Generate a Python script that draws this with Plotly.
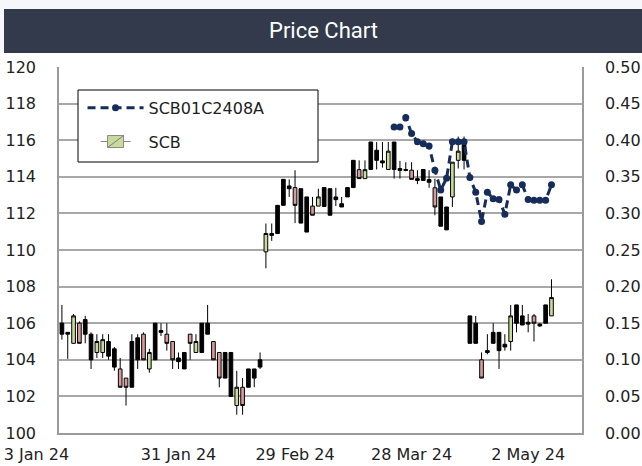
import pandas as pd
import plotly.graph_objects as go

# ---------------- data ----------------
holidays = ["2024-02-26", "2024-04-08", "2024-04-12", "2024-04-15",
            "2024-04-16", "2024-05-01", "2024-05-06"]
dates = [d.strftime("%Y-%m-%d") for d in pd.bdate_range("2024-01-03", "2024-05-09")
         if d.strftime("%Y-%m-%d") not in holidays]

scb_open = [106.0, 105.5, 104.9, 106.0, 106.2, 105.4, 104.4, 104.4, 105.0, 104.6,
            103.5, 103.0, 102.5, 104.0, 105.4, 103.5, 104.0, 105.6, 105.4, 105.0,
            104.1, 103.5, 105.4, 104.4, 104.4, 106.0, 105.0, 104.4, 104.4, 104.4,
            101.5, 102.5, 102.5, 103.0, 103.6,
            109.9, 110.9, 110.9, 112.44, 113.5, 113.41, 113.35, 112.9, 112.4, 112.4,
            112.38, 113.35, 112.9, 112.53, 112.9, 113.41, 114.39, 113.9, 114.4, 115.45,
            114.87, 114.4, 115.9, 114.45, 114.4, 114.36, 113.9, 114.4, 113.85, 113.4,
            112.9, 112.35, 112.9, 114.9, 116.0,
            106.4, 106.0, 104.0, 104.5, 105.5, 105.5, 104.85, 105.0, 107.0, 106.4,
            106.05, 106.4, 105.95, 106.0, 106.4]
scb_high = [107.0, 105.5, 106.5, 106.1, 106.4, 105.5, 105.4, 105.4, 105.4, 104.7,
            104.1, 103.0, 105.4, 105.4, 105.5, 104.6, 106.0, 106.0, 106.0, 105.0,
            104.4, 104.4, 105.4, 105.4, 106.0, 107.0, 105.0, 104.4, 104.4, 104.4,
            103.4, 103.0, 103.5, 103.5, 104.4,
            111.45, 111.45, 112.44, 113.86, 113.86, 114.36, 113.35, 112.9, 112.9, 113.35,
            113.41, 113.35, 113.4, 112.9, 113.41, 114.9, 114.9, 114.9, 115.9, 115.9,
            115.9, 115.9, 115.9, 114.87, 114.8, 114.8, 114.36, 114.4, 114.36, 113.9,
            112.9, 112.35, 114.8, 116.2, 116.2,
            106.4, 106.4, 104.4, 105.4, 106.0, 105.5, 105.4, 107.0, 107.0, 107.0,
            106.5, 106.5, 106.0, 107.0, 108.4]
scb_low = [105.1, 104.05, 104.9, 104.9, 104.9, 103.5, 104.1, 104.1, 104.0, 103.4,
           102.5, 101.5, 102.5, 103.5, 104.0, 103.3, 104.0, 105.3, 104.5, 103.5,
           103.5, 103.5, 104.0, 104.4, 104.4, 105.4, 104.0, 102.5, 103.0, 102.0,
           101.0, 101.0, 102.5, 102.5, 103.5,
           109.0, 110.5, 110.9, 112.44, 112.9, 111.47, 111.47, 110.98, 111.9, 112.4,
           112.38, 111.9, 112.4, 112.35, 112.9, 113.41, 113.9, 113.9, 114.4, 114.4,
           114.5, 114.4, 113.9, 113.9, 114.3, 113.86, 113.6, 113.8, 113.4, 111.9,
           111.3, 111.1, 112.35, 114.45, 114.4,
           104.9, 104.9, 103.0, 104.3, 104.9, 103.5, 104.5, 104.5, 105.5, 105.9,
           105.5, 105.0, 105.8, 106.0, 106.4]
scb_close = [105.4, 105.4, 106.4, 104.9, 105.4, 104.0, 105.0, 105.1, 104.2, 103.6,
             102.5, 102.5, 105.0, 105.2, 104.0, 104.4, 106.0, 105.5, 104.9, 104.0,
             103.9, 104.4, 104.9, 105.0, 106.0, 105.4, 104.0, 103.0, 103.0, 102.0,
             102.5, 101.5, 103.5, 103.5, 104.0,
             110.9, 110.8, 112.44, 113.86, 113.35, 112.44, 111.47, 110.98, 111.9, 112.9,
             113.41, 111.9, 112.75, 112.35, 113.41, 114.9, 113.9, 114.39, 115.9, 114.9,
             114.76, 115.4, 114.4, 114.35, 114.35, 113.86, 113.8, 113.8, 113.7, 112.35,
             111.3, 111.1, 114.8, 115.4, 114.9,
             104.9, 104.9, 103.0, 104.4, 104.9, 104.5, 104.7, 106.4, 106.0, 105.9,
             105.95, 106.0, 105.85, 107.0, 107.4]
# candles whose body is drawn solid dark in the reference
dark_body = [1, 1, 0, 0, 1, 1, 0, 0, 1, 1,
             0, 0, 1, 1, 0, 0, 1, 1, 0, 0,
             1, 1, 0, 0, 1, 1, 0, 0, 1, 1,
             0, 0, 1, 1, 1,
             0, 1, 1, 1, 1, 0, 1, 1, 0, 0,
             1, 1, 1, 1, 1, 1, 0, 0, 1, 1,
             1, 0, 1, 1, 1, 0, 1, 1, 1, 0,
             1, 1, 0, 0, 1,
             1, 1, 0, 1, 1, 1, 1, 0, 1, 1,
             1, 0, 1, 1, 0]

warrant_start = "2024-03-25"
warrant_values = [0.418, 0.418, 0.431, 0.409, 0.398, 0.395, 0.392, 0.359, 0.332, 0.348,
                  0.398, 0.398, 0.398, 0.349, 0.329, 0.289, 0.329, 0.320, 0.319, 0.299,
                  0.339, 0.332, 0.339, 0.319, 0.318, 0.318, 0.318, 0.339]

tick_dates = ["2024-01-03", "2024-01-31", "2024-02-29", "2024-03-28", "2024-05-02"]
tick_labels = ["3 Jan 24", "31 Jan 24", "29 Feb 24", "28 Mar 24", "2 May 24"]

# ---------------- figure ----------------
GREEN = "#c8da9c"
PINK = "#d89b9b"
NAVY = "#162d5c"
FONT = "DejaVu Sans"

col_idx = [i for i, k in enumerate(dark_body) if not k]
dark_idx = [i for i, k in enumerate(dark_body) if k]

def pick(arr, idx):
    return [arr[i] for i in idx]

fig = go.Figure()
fig.add_trace(go.Candlestick(
    x=pick(dates, dark_idx), open=pick(scb_open, dark_idx), high=pick(scb_high, dark_idx),
    low=pick(scb_low, dark_idx), close=pick(scb_close, dark_idx),
    increasing=dict(fillcolor="black", line=dict(color="black", width=1)),
    decreasing=dict(fillcolor="black", line=dict(color="black", width=1)),
    showlegend=False, name="SCB", hoverinfo="skip"))
fig.add_trace(go.Candlestick(
    x=pick(dates, col_idx), open=pick(scb_open, col_idx), high=pick(scb_high, col_idx),
    low=pick(scb_low, col_idx), close=pick(scb_close, col_idx),
    increasing=dict(fillcolor=GREEN, line=dict(color="black", width=1)),
    decreasing=dict(fillcolor=PINK, line=dict(color="black", width=1)),
    name="SCB", showlegend=False))
ws = dates.index(warrant_start)
fig.add_trace(go.Scatter(
    x=dates[ws:ws + len(warrant_values)], y=warrant_values, yaxis="y2",
    mode="lines+markers", name="SCB01C2408A", legendgroup="a",
    line=dict(color=NAVY, width=3, dash="8px,5px"),
    marker=dict(color=NAVY, size=7)))
# legend entry for SCB (uses the up-candle style)
fig.add_trace(go.Candlestick(
    x=[dates[0]], open=[None], high=[None], low=[None], close=[None],
    increasing=dict(fillcolor=GREEN, line=dict(color="#888", width=1)),
    decreasing=dict(fillcolor=GREEN, line=dict(color="#888", width=1)),
    name="SCB", legendgroup="b", hoverinfo="skip"))

tick_text = [tick_labels[0] + "\u00a0" * 10] + tick_labels[1:]

fig.update_layout(
    width=642, height=466,
    margin=dict(l=59, r=60, t=67, b=33),
    paper_bgcolor="white", plot_bgcolor="white",
    font=dict(family=FONT, size=16, color="#222"),
    xaxis=dict(type="category", categoryorder="array", categoryarray=dates,
               rangeslider=dict(visible=False), showgrid=False, automargin=False,
               showline=True, linecolor="#9a9a9a", linewidth=1.5,
               tickmode="array", tickvals=tick_dates, ticktext=tick_text,
               ticks="", ticklabelstandoff=6, tickfont=dict(size=16)),
    yaxis=dict(range=[100, 120], tick0=100, dtick=2, showgrid=True, automargin=False,
               gridcolor="#a8a8a8", gridwidth=1.5, zeroline=False,
               showline=True, linecolor="#9a9a9a", linewidth=1.5,
               ticks="", ticklabelstandoff=18, tickfont=dict(size=16)),
    yaxis2=dict(overlaying="y", side="right", range=[0, 0.5], tick0=0, dtick=0.05,
                tickformat=".2f", showgrid=False, zeroline=False, automargin=False,
                showline=True, linecolor="#9a9a9a", linewidth=1.5,
                ticks="", ticklabelstandoff=18, tickfont=dict(size=16)),
    legend=dict(x=0.045, y=0.935, xanchor="left", yanchor="top",
                bgcolor="rgba(0,0,0,0)", borderwidth=0,
                font=dict(family=FONT, size=16, color="#222"),
                traceorder="grouped", tracegroupgap=10, itemwidth=56),
    boxgap=0.1,
    showlegend=True,
)

W, H = 523.0, 366.0
def px(x):
    return (x - 59) / W
def py(y):
    return 1 - (y - 67) / H

fig.add_shape(type="rect", xref="paper", yref="paper", x0=px(0), x1=px(642),
              y0=py(53), y1=py(0), fillcolor="#f6f7fb", line=dict(width=0), layer="below")
fig.add_shape(type="rect", xref="paper", yref="paper", x0=px(4), x1=px(642),
              y0=py(53), y1=py(9), fillcolor="#323a4b", line=dict(width=0), layer="below")
fig.add_shape(type="rect", xref="paper", yref="paper", x0=px(78), x1=px(318),
              y0=py(162), y1=py(90), fillcolor="white", line=dict(color="black", width=1),
              layer="above")
fig.add_annotation(text="Price Chart", xref="paper", yref="paper", x=px(323), y=py(31),
                   showarrow=False, font=dict(family="Roboto", size=22, color="white"),
                   xanchor="center", yanchor="middle")

fig.write_html("out.html", post_script="document.body.style.margin='0';",
               config={"displayModeBar": False})
